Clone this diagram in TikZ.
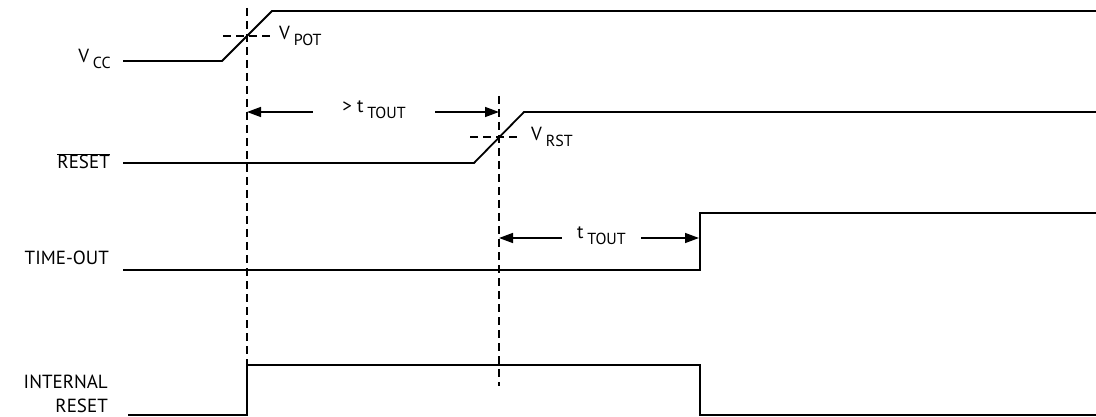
\documentclass[tikz,border=0pt]{standalone}
\usepackage{fontspec}
\setmainfont{PT Sans}
\usetikzlibrary{arrows.meta}
\tikzstyle{signal} = [line width=1.8pt, line join=miter]
\tikzstyle{marker} = [line width=1.5pt, dash pattern=on 8pt off 5pt]
\tikzstyle{timing} = [line width=1.5pt, -{Triangle[length=14pt,width=10pt]}]
\tikzstyle{siglabel} = [anchor=base east, inner sep=0pt, font=\fontsize{19}{24}\selectfont, align=right]
\tikzstyle{levellabel} = [anchor=base west, inner sep=0pt, font=\fontsize{19}{22}\selectfont]
\tikzstyle{gaplabel} = [inner sep=0pt, font=\fontsize{19}{22}\selectfont]
\newcommand{\lowtxt}[1]{\hspace{0.2em}\raisebox{-0.3em}{\fontsize{16}{18}\selectfont #1}}

\begin{document}
\begin{tikzpicture}[x=1pt,y=-1pt]
\useasboundingbox (0,0) rectangle (1096,417);

% signal names
\node[siglabel] (vcc) at (111,63) {V\lowtxt{CC}};
\node[siglabel] (rst) at (110,169) {$\overline{\mbox{RESET}}$};
\node[siglabel] (tout) at (109,264) {TIME-OUT};
\node[siglabel] (intrst) at (108,412) {INTERNAL\\RESET};

% waveforms
\draw[signal] (123,61) -- (222,61) -- (272,11) -- (1096,11);
\draw[signal] (123,163) -- (474,163) -- (524,112) -- (1096,112);
\draw[signal] (123,270) -- (700,270) -- (700,213) -- (1096,213);
\draw[signal] (128,415) -- (247,415) -- (247,365) -- (700,365) -- (700,415) -- (1096,415);

% threshold markers
\coordinate (portop) at (247,8);
\coordinate (porbot) at (247,365);
\coordinate (rsttop) at (499,96);
\coordinate (rstbot) at (499,386);
\coordinate (toutedge) at (699,213);
\draw[marker] (portop) -- (porbot);
\draw[marker] (rsttop) -- (rstbot);
\draw[marker] (223,36) -- (273,36);
\draw[marker] (470,137) -- (520,137);
\node[levellabel] (vpot) at (279,40) {V\lowtxt{POT}};
\node[levellabel] (vrst) at (531,141) {V\lowtxt{RST}};

% delays
\node[gaplabel, minimum width=122pt] (tpor) at (374,110) {> t\lowtxt{TOUT}};
\draw[timing] (tpor.west |- 0,112) -- (portop |- 0,112);
\draw[timing] (tpor.east |- 0,112) -- (rsttop |- 0,112);
\node[gaplabel, minimum width=79pt] (tdly) at (601.5,236) {t\lowtxt{TOUT}};
\draw[timing] (tdly.west |- 0,238) -- (rsttop |- 0,238);
\draw[timing] (tdly.east |- 0,238) -- (toutedge |- 0,238);
\end{tikzpicture}
\end{document}
